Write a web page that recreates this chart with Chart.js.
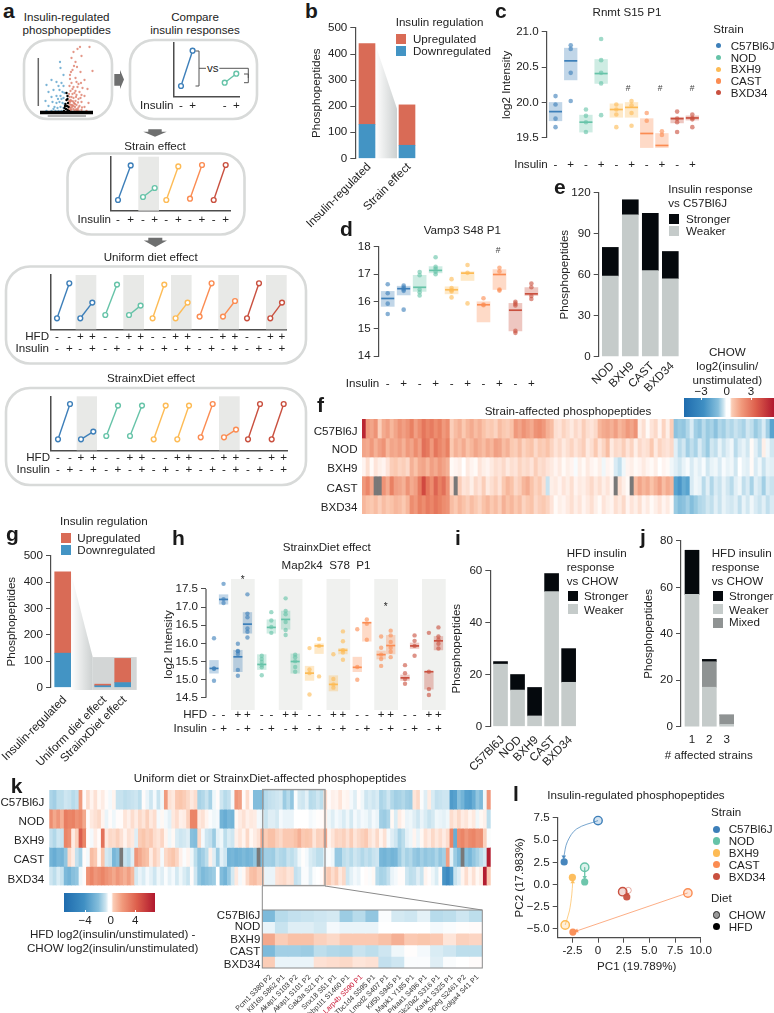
<!DOCTYPE html>
<html><head><meta charset="utf-8">
<script src="https://cdn.jsdelivr.net/npm/chart.js@4"></script>
<style>
html,body{margin:0;padding:0;background:#fff}
#page{position:relative;width:774px;height:1013px;overflow:hidden;background:#fff}
#page canvas{position:absolute}
.t{position:absolute;white-space:pre;color:#222;line-height:1;font-family:"Liberation Sans",Arial,sans-serif}
</style></head><body><div id="page"></div>
<script>
/* ---------- shared labels ---------- */
const strains=['C57Bl6J','NOD','BXH9','CAST','BXD34'];
const STRAIN=['#3d7fb9','#66c3a8','#fdbb55','#fb8c52','#c9503f'];
const insulinLabels=['-','+','-','+','-','+','-','+','-','+'];
const dietInsulinLabels=[['-','-'],['-','+'],['+','-'],['+','+'],['-','-'],['-','+'],['+','-'],['+','+'],['-','-'],['-','+'],['+','-'],['+','+'],['-','-'],['-','+'],['+','-'],['+','+'],['-','-'],['-','+'],['+','-'],['+','+']];

/* ---------- b, e, g, i, j stacked bars ---------- */
const bLabels=['Insulin-regulated','Strain effect'];
const bDown=[130,50];
const bUp=[310,155];
const eLabels=['NOD','BXH9','CAST','BXD34'];
const eWeaker=[59,104,63,57];
const eStronger=[21,11,42,20];
const gLabels=['Insulin-regulated','Uniform diet effect','StrainxDiet effect'];
const gDown=[130,6,18];
const gUp=[310,6,92];
const iLabels=strains;
const iWeaker=[24,14,4,52,17];
const iStronger=[1,6,11,7,13];
const jLabels=['1','2','3'];
const jWeaker=[57,17,1];
const jMixed=[0,11,4];
const jStronger=[19,1,0];

/* ---------- c Rnmt S15 P1 ---------- */
const cX=[1,2,3,4,5,6,7,8,9,10];
const cPts=[[20.09,19.97,19.77,19.65],[20.81,20.76,20.42,20.02],[19.9,19.81,19.72,19.58],[20.9,20.6,20.42,20.27,19.82],[19.97,19.9,19.83,19.65],[20.02,19.96,19.85,19.67],[19.85,19.74,19.39,19.3],[19.59,19.54,19.39,19.26],[19.87,19.77,19.72,19.58],[19.83,19.78,19.76,19.65]];
const cMed=[19.87,20.59,19.72,20.41,19.9,19.93,19.56,19.39,19.77,19.78];
const cLo=[19.74,20.32,19.58,20.27,19.79,19.79,19.36,19.36,19.71,19.75];
const cHi=[20,20.77,19.82,20.61,19.98,20,19.77,19.56,19.79,19.81];

/* ---------- d Vamp3 S48 P1 ---------- */
const dX=[1,2,3,4,5,6,7,8,9,10];
const dPts=[[16.63,16.3,15.92,15.54],[16.58,16.51,16.44,16.39,15.7],[17.08,16.96,16.44,16.34,16.22],[17.62,17.27,17.2,17.09,17],[16.82,16.49,16.41,16.37,16.15],[17.34,17.05,15.93],[16.12,15.89,15.86,13.38],[17.24,17.1,16.44,16.4],[15.99,15.92,15.85,14.92,14.85],[16.66,16.52,16.2,16.09]];
const dMed=[16.11,16.47,16.52,17.14,16.43,17.04,15.88,16.99,15.68,16.28];
const dLo=[15.82,16.24,16.37,17.05,16.28,16.77,15.25,16.44,14.92,16.22];
const dHi=[16.37,16.56,16.96,17.28,16.54,17.09,15.99,17.17,15.93,16.51];

/* ---------- h Map2k4 S78 P1 ---------- */
const hX=[0,1,2.5,3.5,5,6,7.5,8.5,10,11,12.5,13.5,15,16,17.5,18.5,20,21,22.5,23.5];
const hPts=[[16.14,15.31,15.3,14.97],[17.64,17.22,17.11],[15.99,15.79,15.78,15.71,15.27,15.11],[17.35,16.82,16.72,16.41,16.32,16.16],[15.66,15.57,15.49,15.4,15.34,15.12],[16.86,16.63,16.45,16.29],[17.24,16.89,16.8,16.59,16.37,16.23],[15.69,15.62,15.51,15.35,15.22],[15.87,15.28,15.18,14.59],[16.12,15.93,15.09],[15.7,15.02,14.87,14.78],[16.33,16.06,15.81,15.75,15.55],[16.39,15.35,15],[16.66,16.54,16.1],[16.19,15.88,15.69,15.57,15.38],[16.35,16.22,16.04,15.88,15.77,15.62],[15.4,15.18,15.02,14.89],[16.22,16.07,15.93,15.66],[16.29,15.22,14.74,14.58],[16.44,16.19,16.1,15.99,15.86]];
const hMed=[15.31,17.21,15.63,16.53,15.42,16.44,16.66,15.5,15.18,15.93,14.87,15.81,15.34,16.57,15.69,15.94,15.05,15.93,15.22,16.07];
const hLo=[15.18,17.08,15.22,16.28,15.28,16.28,16.39,15.18,14.98,15.72,14.69,15.71,15.22,16.06,15.57,15.71,14.98,15.86,14.74,15.82];
const hHi=[15.53,17.34,15.81,16.85,15.69,16.65,16.89,15.71,15.37,15.99,15.11,15.86,15.62,16.58,15.79,16.22,15.13,16.01,15.22,16.19];
const hShade=[[1.78,4.26],[6.78,9.26],[11.78,14.26],[16.78,19.26],[21.78,24.26]];

/* ---------- f heatmap ---------- */
const fC57=[4,1.8,1.6,1.9,.9,1.5,1.7,1.3,1.6,1.9,
1.7,1.9,2.2,1.7,2,2.4,2.1,2.3,2,2.2,
1.8,2,.9,1.2,1.4,1,1.3,1.5,1.2,1.4,
1.1,.9,1,.8,1.2,1,.9,1.1,1.8,1.6,
1.9,1.7,1.5,1.9,2,1.8,1.4,1.2,.6,.5,
.8,.6,.4,.7,.5,.9,.6,.5,.7,1.3,
1.5,1.6,1.4,1.7,1.3,1.5,1.8,1.6,1.9,.3,
.6,.1,.5,.7,.2,.8,.3,.9,-1.5,-1.3,
-1.4,-1,-.5,-1.2,-1.4,-.9,-1.3,-1.1,-1.5,-1,
-1.2,-.8,-1,-.7,-.9,-1.1,-.6,-.8,-1.3,-1,
-.5,-1.2,-2.2];
const fNOD=[1.6,1.5,1.8,1.4,1.7,1.9,1.3,1.6,1.5,1.7,
1.4,1.8,1.6,2,1.7,2.5,2.3,1.8,2.4,2.1,
1.9,2.2,1,1.4,1.2,1.5,1.1,1.3,1.6,1.4,
1.2,1.5,1.3,1.7,1.6,1.2,1.4,1,.9,1.2,
.8,1,1.1,.7,1,.9,1.1,.8,.5,.7,
.4,.6,.8,.5,.7,.9,.4,.6,1,.5,
.8,1.2,.4,.7,.6,.9,.5,.8,.3,.7,
.5,.6,1,.4,.8,.6,.5,.7,-.4,-.9,
-.6,-1.2,-.8,-1.1,-.5,-.9,-1.3,-.6,-.8,-.3,
-.7,-.4,-.2,-.9,-.5,-.3,-.6,.1,-.4,-.8,
.3,-.2,-.6];
const fBXH9=[.2,.6,.1,.5,.3,.2,.5,.9,1,.8,
.9,.7,1.4,1.1,1.5,1.6,1.3,1.7,1.5,1.8,
1.6,1.4,.1,.2,.3,0,.4,.2,.1,.5,
.3,.2,.4,.6,.5,.7,.4,.6,.5,.8,
.6,.7,.5,.9,.6,.7,.5,.4,.2,.4,
.1,.3,.2,-.1,.3,.1,.4,.2,.1,.3,
-.2,.2,.1,-.5,-.8,-.2,.2,.3,.1,.2,
.4,.2,.1,.3,0,.2,.1,-.2,-.4,-.6,
-.3,-.1,-.5,-.2,-.4,-.1,-.6,-.3,-.2,-.5,
-.1,-.3,-.2,-.6,0,-.3,-.4,.1,-.5,-.2,
-.7,-.3,-.4];
const fCAST=[1.8,2.1,1.6,null,null,1.9,1.5,2.2,1.7,1.6,
1.4,1.9,1.5,1.7,2.3,3.2,2.4,2,2.7,2.2,
2.5,1.9,.7,null,.9,.5,.6,.3,.7,.5,
.9,.4,.6,.8,.5,1,1.3,1.1,.7,.9,
1.3,1.5,1.1,.8,1,.6,-.7,.3,.4,.2,
.5,.3,.6,.2,.4,.3,.5,.7,.4,.6,
.3,.5,.2,null,.6,.3,.1,null,1.2,1.6,
1.3,1.5,1.1,1.4,1.7,1.2,1.5,1.3,-2.2,-2.5,
-2,-2.2,-.5,-.2,-.3,-.9,-.4,-1,-.5,-.7,
-.3,-.6,-.9,-.4,-.2,-.8,-.5,-1.1,-.4,-.6,
-1.2,-.5,-.7];
const fBXD=[1.3,1.1,1,1.2,.9,1.2,1,1.1,1.3,1.2,
1,1.3,2,1.8,2.2,2,2.3,2.1,2.4,2.2,
2,1.9,1.2,1,1.3,1.1,.9,1.2,1,.8,
1.1,1.3,1,1.2,.9,1.4,1.1,1.3,1,1.2,
.8,1,1.1,.7,.9,1,.8,.5,.1,.3,
.2,.4,.6,.3,.5,.2,.4,.6,.3,.1,
.5,.3,.2,.6,.4,.7,.2,.5,.3,.6,
.2,.4,.1,.3,.5,.2,.4,.1,-1.3,-1.6,
-1.5,-1.2,-1.6,-1.3,-1,-.9,-.6,-.8,-.4,-.7,
-.3,-.5,-.6,-.4,-.8,-.3,-.6,-.2,-.5,-.7,
-.4,-.8,-.5];

/* ---------- k heatmap (inset = columns 57..73) ---------- */
const kC57=[-1.5,-1.7,-1.2,-1.2,-.9,-1,-1.3,-1.1,2.5,.1,.9,.3,.8,.2,.5,.1,-.2,.3,-1,-1,-1.2,-1.1,-1,-.9,-1.2,.1,-.4,-.9,-.2,-1,-.3,2.5,.8,.6,1.4,1.5,1.3,1,.6,.9,-1.6,-1.4,-1,-1.6,-.3,.1,-.9,-1.3,-1.1,-.2,2.6,2.4,.1,.9,.1,-2.3,-2.3,
-2.4,-1.3,-1.1,-1,-.9,-.8,-1.8,-1.3,-2,-.1,-.8,-.9,-.5,-1.3,-1.2,-.9,-1.2,
.9,.1,.4,.3,.7,.2,.3,-.2,-.6,.1,-.3,-.9,-.7,-.9,-.7,-1.5,-1.3,-.9,-1.4,-1.7,-1.6,-1.4,-1.7,-1.8,.7,1,-.1,-.6,.5,-.7,-1.1,-1,-.9,-.9,-3.4,-3.2,-2.2,-2.6,-3.2,-3.3,-2.8,-2,-2.4,-.3,2.6];
const kNOD=[2.8,2.2,2.6,2,3.2,3,3.1,2.7,2.9,2.2,.1,.6,.8,1,.3,-.4,.1,-.3,.1,.1,.7,.4,.9,.5,1,.7,1.2,.6,.9,-.2,.2,-.2,-.5,.6,.9,.4,.5,1.2,3,3,.6,.8,.3,-.1,-.3,-.2,-2.6,-2.8,-2.5,-2.6,.2,.5,.8,.4,.6,.5,-.2,
-.4,-1,-.6,-.6,-.8,-.2,-.4,-.4,-.4,0,0,0,0,-.2,-.1,.05,.1,
.5,-.3,-.6,-.2,-.4,-.7,-.3,-.8,-.2,-.5,-.2,-.3,-.6,-.2,-.4,-1.7,-1.8,-1.5,.2,-.7,.5,.2,-.4,-.3,-.6,-.9,-.4,-.7,-1,-.8,-.3,-.4,-.5,-.3,.9,.6,1,.5,.7,.3,.6,-.3,.2,.4,-1.2];
const kBXH9=[-1.1,-1.4,-.9,-1,3,2.8,.5,1.2,4,3,.1,-.2,.5,.1,3.5,.6,1,.9,1.2,.8,.3,.8,.6,-.6,1.3,1.5,1.2,1.4,.9,.7,1.1,.3,-.3,.2,-.7,-.9,-.8,-.6,-2.2,-2.3,1,-.2,-.9,-1.1,-1.8,-.5,-.3,-1.2,-.7,-.9,.4,.7,.3,1,.2,.5,.8,
2.2,1.3,1.6,1.6,1.2,1,1.4,1.4,1.4,1.6,2,1.4,1.5,1.4,.7,1.2,1.1,
2.2,.3,.7,1.1,1,1.2,.8,1.3,.7,1,1.2,1.4,.8,.5,1,.3,.8,-.2,-.6,-.9,-1.6,-1.2,-.5,-.3,.3,-.4,.2,.8,.5,1,.6,.9,.5,.9,3,-2.8,2.8,3,2.6,2.9,3,2.7,2.8,1.2,-.1];
const kCAST=[-2.6,-2.8,-2.5,-2.6,-2,1,.5,-1.1,-1.6,.1,-.2,1.7,1.4,.2,1.5,-.8,-1,-2.5,-2.2,null,-1,-1.3,-.6,2.6,2.2,1.8,1.6,.5,1.2,.8,-.2,1,1.3,1.5,1.1,.4,-.1,.3,-.3,-1.2,-2,-1.7,-1.2,.4,-.6,-1.8,-.5,-.9,-2.6,-2.5,-2.7,-2.6,-2.4,-2.6,-2.5,-2,null,
-2.4,-1.7,-1.7,-1.8,-1.2,-1.4,-1.5,-1,-1.2,-.9,-.3,.05,-.2,-.7,-.9,-1.2,-1.2,
-.2,-.1,-.3,-1.9,-1.9,-1.2,-1,-1.3,-.9,-1.1,-1.4,-1.1,-1.3,-1,-.9,-2.5,-2.6,-2.4,-2.6,-2.5,-1.8,-1.2,-1.6,-1.4,-1.9,-2.1,-1.7,-2,-1.8,-1.9,-1.5,-2,-1.7,2.4,-.5,-1.8,-2.4,null,-2.2,-2.5,-2,-1.6,-1.2,-.8,6];
const kBXD=[-.9,-1.2,-.7,-1,-2.4,-2.6,-2.2,-2,-.3,.1,2.7,3,2.6,2.8,3,2.7,2.5,2.2,2.6,2.3,2,2.4,1.8,-.8,-.4,-.7,-.2,-.5,-.9,-.3,-.6,-.1,-.5,-.2,-.8,-.3,-.7,-1,.1,-.9,-2,-2.4,-2.2,-2,-1.8,0,-2.3,-2.6,-1.9,-.8,.6,-.2,.2,1,1.6,1.7,1.3,
1.3,-.4,-.4,-.4,.8,.9,1,.7,.8,-1.1,-.9,-.1,-.1,-.6,-.1,0,.1,
1.2,1.4,.9,1.3,.6,1,-.9,-.5,-.2,-.4,0,.1,-.1,.2,-1.3,-1.6,-1.5,-1.1,-.4,-.2,.1,.1,-.9,-1.2,-1.1,-.6,-1,.3,.1,-.3,-.7,.1,-3.6,-3.9,-3.4,-1,-.6,.3,.9,.3,.8,.2,.5,6,1.4];
const insetLabels=['Pcm1 S380 P2','Kif16b S862 P1','Akap1 S103 P2','Akap1 S101 P2','Gak3a S21 P1','Snx18 S51 P1','Ehbp1l1 S1460 P1','Larp4b S590 P1','Tbc1d4 S595 P1','Lmod2 S407 P1','Kif5b S945 P1','Mapk1 Y185 P1','Prkaa1 S496 P1','Slc20a2 S316 P1','Kank1 S325 P1','Speg S2461 P2','Golga4 S41 P1'];

/* ---------- l PCA ---------- */
const lChow=[[0,7.2],[-1.3,1.95],[-3.2,-4.55],[8.75,-.95],[2.4,-.8]];
const lHfd=[[-3.3,2.55],[-1.3,.3],[-2.5,.8],[-2.45,-5.35],[2.8,-1.4]];
const lBxdRing=[[2.95,-.65]];
const lPathC57=[[0,7.2],[-2.08,6.27],[-2.99,4.82],[-3.34,3.12]];
const lPathNOD=[[-1.3,1.95],[-1.3,.83]];
const lPathBXH9=[[-3.2,-4.55],[-2.79,-2.97],[-2.56,-1.16],[-2.47,.29]];
const lPathCAST=[[8.73,-.94],[-2.08,-5.22]];
const lPathBXD=[[2.95,-.65],[2.85,-1.05]];

/* ---------- a schematics ---------- */
const volRed=[[1.35,6.9],[2.3,6.9],[.7,6.4],[1.1,6.7],[.5,5.8],[1.5,6],[.9,5.4],[2.6,4.5],[1.4,4.4],[.35,4.1],[.9,3.8],[1.8,3.6],[.5,3.3],[1.2,3.2],[.3,3],[.7,2.9],[1.6,2.8],[2.1,2.7],[.4,2.5],[.9,2.5],[1.3,2.4],[.6,2.2],[1,2.1],[1.8,2],[.3,1.9],[.7,1.8],[1.2,1.7],[.5,1.5],[.9,1.5],[1.5,1.4],[2.2,1.3],[.3,1.2],[.6,1.1],[1,1.1],[1.3,1],[1.8,.9],[.4,.8],[.7,.7],[1.1,.7],[1.5,.6],[2,.5],[.3,.5],[.6,.4],[.9,.4],[1.3,.4],[1.7,.35],[.35,3.7],[.6,4.6],[1.05,4.9],[.75,5],[.45,4.4],[1,3.4],[1.45,3.3],[.6,2.7],[1.1,2.9],[.8,2.3],[1.5,2.1],[.5,1.9],[.95,1.9],[1.4,1.8],[.4,1.6],[.75,1.3],[1.15,1.35],[.55,.9],[.85,.9],[1.2,.85],[.4,.6],[.8,.55],[1.05,.5],[1.55,.85],[.25,2.2],[.25,1.5],[.2,1],[.2,.7],[.45,1.1],[.65,1.45],[.35,1.4],[.85,1.2],[.5,.65],[.95,.65],[1.2,.55],[.7,1],[.3,.9]];
const volBlue=[[-.65,5.4],[-.6,4.8],[-.3,4.1],[-1.5,3.6],[-2,3.1],[-1,3.4],[-.8,3],[-.5,3.3],[-.3,3],[-1.8,2.4],[-1.3,2.6],[-.7,2.6],[-.4,2.4],[-.2,2.3],[-1.5,1.9],[-1,2],[-.6,2],[-.3,1.8],[-2.1,1.5],[-1.4,1.4],[-1,1.3],[-.7,1.4],[-.4,1.3],[-.2,1.2],[-1.8,1],[-1.2,.9],[-.9,.8],[-.6,.9],[-.3,.8],[-1.5,.5],[-1.1,.5],[-.8,.5],[-.5,.5],[-.25,.5],[-2,.5],[-1.3,.7],[-.5,1.7],[-.85,1.7]];
const volBlack=[[-.2,.8],[-.1,1.2],[0,1.6],[.1,2],[.05,1],[.15,1.3],[-.05,.7],[.2,.9],[.1,.6],[-.25,.5],[.25,.5],[0,2.3],[.1,1.7],[-.15,1]];
const volBand=[[-2.65,.35],[2.65,.35]];

const compareX=[[7.7,19.3],[51.4,63]];
const compareLow=[10.7,14];
const compareHigh=[46,23];
const compareLabels=['-','+','-','+'];

const strainX=[[7,19.7],[32,43.7],[55.3,67.3],[79,91],[102.7,114.7]];
const strainLow=[10.7,13.7,10.7,12,10.7];
const strainHigh=[45.3,22.7,44.3,45.7,45.7];
const strainShade=[[27.3,48]];

const uniformX=[[6.7,19],[30,42],[55,66.7],[78.7,90.3],[102.3,114],[125.3,137.3],[149.3,161.3],[172.7,184.7],[196.7,208.7],[220,231.7]];
const uniformLow=[11,11,14.3,14.3,11,11,12.7,12.7,11,11];
const uniformHigh=[46,26.7,44.7,23.7,44.7,26.7,46,28.3,46,26.7];
const uniformShade=[[25.3,46],[73,93.7],[120.7,141.3],[168,188.7],[215.7,236.4]];

const sxdX=[[7,19],[30,42.3],[55.3,67],[79,91],[102.7,114.7],[126.3,138],[149.7,161.7],[173,185],[197,209],[220.7,232.7]];
const sxdLow=[11,11,14.3,14.3,11,11,13,13,11,11];
const sxdHigh=[46.3,18.7,44.7,44.7,44.7,44.7,46.3,20.7,46.3,46.3];
const sxdShade=[[25.7,46],[168,188.7]];

/* ========== drawing ========== */
const FONT='"Liberation Sans",Arial,sans-serif', INK='#222', AX='#4d4d4d', FS=11.6;
const RED='#d96b56', BLUE='#4394c4', BLACK='#05090d', WEAK='#c5cbca', MIXED='#8f9393', GRAYCELL='#787878';
Chart.defaults.font.family=FONT; Chart.defaults.font.size=FS; Chart.defaults.color=INK;
Chart.defaults.animation=false; Chart.defaults.responsive=false; Chart.defaults.events=[];
Chart.defaults.plugins.legend.display=false; Chart.defaults.plugins.tooltip.enabled=false;
const page=document.getElementById('page');

Chart.register({id:'shade',beforeDatasetsDraw(ch,a,o){
  if(!o.ranges)return;const c=ch.ctx,x=ch.scales.x,A=ch.chartArea;c.save();c.fillStyle=o.color||'#e8e9e7';
  o.ranges.forEach(r=>{const p=x.getPixelForValue(r[0]),q=x.getPixelForValue(r[1]);c.fillRect(p,A.top,q-p,A.bottom-A.top)});c.restore();}});
Chart.register({id:'funnel',beforeDatasetsDraw(ch,a,o){
  if(o.x1===undefined)return;const c=ch.ctx,X=ch.scales.x,Y=ch.scales.y;
  const x1=X.getPixelForValue(o.x1),x2=X.getPixelForValue(o.x2),yt1=Y.getPixelForValue(o.y1),yt2=Y.getPixelForValue(o.y2),yb=Y.getPixelForValue(o.yb);
  const g=c.createLinearGradient(x1,0,x2,0);g.addColorStop(0,'#ffffff');g.addColorStop(1,'#ccd0d0');
  c.save();c.fillStyle=g;c.beginPath();c.moveTo(x1,yt1);c.lineTo(x2,yt2);c.lineTo(x2,yb);c.lineTo(x1,yb);c.closePath();c.fill();
  if(o.x3!==undefined){c.fillStyle='#d3d6d6';const x3=X.getPixelForValue(o.x3);c.fillRect(x2,yt2,x3-x2,yb-yt2);}
  c.restore();}});
Chart.register({id:'axisSpan',afterDatasetsDraw(ch,a,o){
  if(o.from===undefined)return;const c=ch.ctx,Y=ch.scales.y,x=ch.chartArea.left;
  c.save();c.strokeStyle=AX;c.lineWidth=1.2;c.beginPath();c.moveTo(x,Y.getPixelForValue(o.from));c.lineTo(x,Y.getPixelForValue(o.to));c.stroke();c.restore();}});

function rgba(h,a){const n=parseInt(h.slice(1),16);return `rgba(${n>>16},${(n>>8)&255},${n&255},${a})`;}
function T(s,x,y,o={}){const d=document.createElement('div');d.className='t';d.textContent=s;
  d.style.fontSize=(o.size||FS)+'px';
  if(o.bold)d.style.fontWeight='700';if(o.color)d.style.color=o.color;
  d.style.left=x+'px';d.style.top=y+'px';
  const ax=o.a==='c'?'-50%':o.a==='r'?'-100%':'0';
  d.style.transform=`translate(${ax},-50%)`;page.appendChild(d);}
function BOX(x0,y0,x1,y1,bg){const d=document.createElement('div');d.style.cssText=`position:absolute;left:${x0}px;top:${y0}px;width:${x1-x0}px;height:${y1-y0}px;background:${bg}`;page.appendChild(d);return d;}
function DOT(x,y,r,fill,stroke){const d=BOX(x-r,y-r,x+r,y+r,fill);d.style.borderRadius='50%';d.style.boxSizing='border-box';if(stroke)d.style.border=`1.4px solid ${stroke}`;}
function mount(r,m,cfg){const [x0,y0,x1,y1]=r;const c=document.createElement('canvas');
  const L=Math.floor(x0-m.l),Tp=Math.floor(y0-m.t),W=Math.ceil(x1+m.r)-L,H=Math.ceil(y1+m.b)-Tp;
  const ml=x0-L,mt=y0-Tp,mr=W-(x1-L),mb=H-(y1-Tp);
  c.width=W;c.height=H;c.style.left=L+'px';c.style.top=Tp+'px';page.appendChild(c);
  const o=cfg.options=cfg.options||{};o.responsive=false;o.maintainAspectRatio=false;
  const xs=o.scales.x,ys=o.scales.y,xd=xs.display!==false,yd=ys.display!==false;
  if(xd)xs.afterFit=s=>{s.height=mb};if(yd)ys.afterFit=s=>{s.width=ml};
  if(m.title)ys.title={display:true,text:m.title,color:INK,font:{size:FS,lineHeight:1.2},padding:{top:Math.max(0,m.tx-L-FS*.6),bottom:0}};
  o.layout={autoPadding:false,padding:{left:yd?0:ml,top:mt,right:mr,bottom:xd?0:mb}};
  return new Chart(c,cfg);}
function yAxis(min,max,ticks,fmt,extra={}){return Object.assign({type:'linear',min,max,
  afterBuildTicks:s=>{s.ticks=ticks.map(value=>({value}))},
  ticks:{callback:v=>fmt?fmt(v):v,padding:3,autoSkip:false,color:INK,font:{size:FS}},
  grid:{drawOnChartArea:false,tickLength:5,tickColor:AX,color:AX,lineWidth:1},
  border:{color:AX,width:1.2}},extra);}
function xLabels(min,max,xs,labels,opt={}){return {type:'linear',min,max,offset:false,
  afterBuildTicks:s=>{s.ticks=xs.map(value=>({value}))},
  ticks:{callback:(v,i)=>labels[i],autoSkip:false,padding:opt.padding===undefined?2:opt.padding,color:INK,labelOffset:opt.rot?2:0,
    font:{size:opt.size||FS,lineHeight:opt.lineHeight||1.2},minRotation:opt.rot||0,maxRotation:opt.rot||0},
  grid:{display:false,drawTicks:false,offset:false},border:{display:!!opt.border,color:AX,width:1.5}};}
const f1=v=>v.toFixed(1);

/* stacked bars */
function bars(r,m,o){const ds=o.stacks.map(s=>({data:o.xs.map((x,i)=>({x,y:s.vals[i]})),backgroundColor:s.color,barThickness:o.thick,borderWidth:0,clip:false}));
  return mount(r,m,{type:'bar',data:{datasets:ds},options:{plugins:o.plugins||{},
    scales:{x:Object.assign(xLabels(o.xmin,o.xmax,o.xs,o.labels,{rot:o.rot,padding:o.padding}),{stacked:true}),y:yAxis(0,o.ymax,o.yticks,null,{stacked:true})}}});}
/* median + range + dots */
function crossbar(r,m,o){const cols=o.xs.map((x,i)=>STRAIN[Math.floor(i/o.per)]);
  const flat=[],fc=[];o.pts.forEach((p,i)=>p.forEach(y=>{flat.push({x:o.xs[i],y});fc.push(rgba(cols[i],.62));}));
  return mount(r,m,{type:'bar',data:{datasets:[
    {type:'bar',data:o.xs.map((x,i)=>({x,y:[o.lo[i],o.hi[i]]})),backgroundColor:cols.map(c=>rgba(c,.32)),barThickness:o.boxW,borderWidth:0,order:3,clip:false},
    {type:'scatter',data:flat,pointRadius:o.ptR,pointBackgroundColor:fc,pointBorderWidth:0,order:2,clip:false},
    {type:'scatter',data:o.xs.map((x,i)=>({x,y:o.med[i]})),pointStyle:'line',pointRadius:o.medR,pointBorderColor:cols,pointBorderWidth:1.7,order:1,clip:false}
  ]},options:{plugins:o.plugins||{},scales:{x:xLabels(o.xmin,o.xmax,o.xs,o.labels,{padding:o.padding,lineHeight:o.lineHeight}),y:o.y}}});}
/* heat */
const STOPS=[[-4,[24,92,160]],[-3,[38,115,180]],[-2,[90,165,208]],[-1,[170,212,231]],[-.4,[222,238,245]],[0,[255,255,255]],[.4,[254,232,222]],[1,[250,196,170]],[2,[234,130,100]],[3,[208,70,62]],[4,[176,24,46]]];
function heatColor(v){if(v===null)return GRAYCELL;v=Math.max(-4,Math.min(4,v));
  for(let i=1;i<STOPS.length;i++){if(v<=STOPS[i][0]){const a=STOPS[i-1],b=STOPS[i],t=(v-a[0])/(b[0]-a[0]);
    return `rgb(${a[1].map((c,k)=>Math.round(c+(b[1][k]-c)*t)).join(',')})`;}}return 'rgb(176,24,46)';}
function heat(r,m,rows,scale,lab){
  return mount(r,m,{type:'bar',data:{labels:lab||rows[0].map((_,i)=>''+i),datasets:rows.map((vals,i)=>({
      data:vals.map(()=>[i,i+1]),backgroundColor:vals.map(v=>heatColor(v===null?null:v*scale)),barPercentage:1,categoryPercentage:1,grouped:false,borderWidth:0}))},
    options:{scales:{y:{type:'linear',min:0,max:5,reverse:true,display:false},
      x:lab?{type:'category',offset:true,grid:{display:false,drawTicks:false},border:{display:false},
        ticks:{autoSkip:false,minRotation:45,maxRotation:45,padding:5,labelOffset:2,font:{size:7.2},
          color:c=>insetLabels[c.index]==='Larp4b S590 P1'?'#c8102e':'#333'}}:{type:'category',display:false}}}});}
/* schematic insulin lines */
function schem(r,m,o){const ds=[];const sc=o.colorOf;
  o.x.forEach((p,i)=>{const c=sc(i);ds.push({type:'line',data:[{x:p[0],y:o.low[i]},{x:p[1],y:o.high[i]}],borderColor:c,borderWidth:1.4,pointRadius:2.4,pointBackgroundColor:'#fff',pointBorderColor:c,pointBorderWidth:1.4,clip:false})});
  const xs=o.x.flat();
  return mount(r,m,{type:'line',data:{datasets:ds},options:{plugins:{shade:{ranges:o.shade}},
    scales:{x:xLabels(0,o.xmax,xs,o.labels,{padding:o.padding,border:true,lineHeight:o.lineHeight}),
      y:{type:'linear',min:0,max:o.ymax,ticks:{display:false},grid:{display:false,drawTicks:false},border:{color:AX,width:1.5}}}}});}

/* ---- panel a ---- */
const NS='http://www.w3.org/2000/svg';
const svg=document.createElementNS(NS,'svg');svg.setAttribute('width',774);svg.setAttribute('height',1013);svg.style.cssText='position:absolute;left:0;top:0;z-index:2;pointer-events:none';page.appendChild(svg);
function P(tag,attrs){const e=document.createElementNS(NS,tag);for(const k in attrs)e.setAttribute(k,attrs[k]);svg.appendChild(e);}
const FR={fill:'none',stroke:'#d8dad9','stroke-width':2.6};
P('rect',{x:24,y:40,width:88,height:79,rx:24,...FR});
P('rect',{x:130,y:40,width:127,height:79,rx:24,...FR});
P('rect',{x:67.5,y:153.5,width:177,height:81,rx:24,...FR});
P('rect',{x:6,y:266.5,width:300,height:97,rx:24,...FR});
P('rect',{x:6,y:388,width:300,height:97,rx:24,...FR});
P('polygon',{points:'114.3,74 120,74 120,70 124,79.5 120,89 120,85.7 114.3,85.7',fill:'#6e6f6f'});
P('polygon',{points:'148.3,129.3 161.7,129.3 161.7,131.7 166.7,131.7 155,136.7 143.3,131.7 148.3,131.7',fill:'#6e6f6f'});
P('polygon',{points:'148.3,237.7 162.3,237.7 162.3,240.5 167,240.5 155.3,247 143.8,240.5 148.3,240.5',fill:'#6e6f6f'});
const LN={fill:'none',stroke:'#555','stroke-width':1};
P('path',{d:'M195.5,51H199V86H195.5',...LN});P('path',{d:'M199,68.3H206',...LN});
P('path',{d:'M219.3,68.3H248.3V78',...LN});P('path',{d:'M244,74H248.3V82.7H244',...LN});
P('line',{x1:38.3,y1:58,x2:38.3,y2:106,stroke:'#666','stroke-width':1.5});
P('line',{x1:47.7,y1:116,x2:86,y2:116,stroke:'#666','stroke-width':1.2});
/* k zoom guide */
const GL={fill:'none',stroke:'#9a9a9a','stroke-width':1.4};
P('rect',{x:262.7,y:789.6,width:62.3,height:96,...GL});
const GL2={fill:'none',stroke:'#8a8a8a','stroke-width':1};
P('line',{x1:262.3,y1:886,x2:262.3,y2:910,...GL2});P('line',{x1:325,y1:886,x2:482,y2:910,...GL2});
P('rect',{x:262.3,y:910,width:220,height:58,...GL2});

T('a',3,9.5,{size:21,bold:true,color:'#1a1a1a'});
T('Insulin-regulated',66.7,16.7,{a:'c'});T('phosphopeptides',66.7,30,{a:'c'});
T('Compare',195,16.7,{a:'c'});T('insulin responses',195,30,{a:'c'});
T('vs',212.7,68,{a:'c'});
mount([33,40,100,116],{l:0,t:0,r:0,b:0},{type:'scatter',data:{datasets:[
  {type:'line',data:volBand.map(p=>({x:p[0],y:p[1]})),borderColor:'#000',borderWidth:3.4,pointRadius:0,clip:false},
  {data:volBlack.map(p=>({x:p[0],y:p[1]})),pointRadius:1.2,pointBackgroundColor:'#000',pointBorderWidth:0,clip:false},
  {data:volRed.map(p=>({x:p[0],y:p[1]})),pointRadius:1.15,pointBackgroundColor:'rgba(217,107,86,.7)',pointBorderWidth:0,clip:false},
  {data:volBlue.map(p=>({x:p[0],y:p[1]})),pointRadius:1.15,pointBackgroundColor:'rgba(67,148,196,.7)',pointBorderWidth:0,clip:false}
]},options:{scales:{x:{type:'linear',min:-3.35,max:3.35,display:false},y:{type:'linear',min:0,max:7.6,display:false}}}});

schem([173.3,43,239,96.7],{l:3,t:6,r:3,b:16},{x:compareX,low:compareLow,high:compareHigh,xmax:65.7,ymax:53.7,labels:compareLabels,padding:2,colorOf:i=>STRAIN[i]});
T('Insulin',173.5,105,{a:'r'});

T('Strain effect',155,146,{a:'c'});
schem([111,156.7,230,210.7],{l:3,t:6,r:3,b:16},{x:strainX,low:strainLow,high:strainHigh,xmax:119,ymax:54,shade:strainShade,labels:['-','+','-','+','-','+','-','+','-','+'],padding:2,colorOf:i=>STRAIN[i]});
T('Insulin',111,218.7,{a:'r'});

T('Uniform diet effect',150.7,257,{a:'c'});
schem([50.3,275,286.7,329.3],{l:3,t:6,r:3,b:30},{x:uniformX,low:uniformLow,high:uniformHigh,xmax:236.4,ymax:54.3,shade:uniformShade,labels:dietInsulinLabels,padding:1,lineHeight:1.04,colorOf:i=>STRAIN[Math.floor(i/2)]});
T('HFD',49,336.3,{a:'r'});T('Insulin',49,348.3,{a:'r'});

T('StrainxDiet effect',151,378.3,{a:'c'});
schem([51,396.3,287.3,450.3],{l:3,t:6,r:3,b:30},{x:sxdX,low:sxdLow,high:sxdHigh,xmax:236.3,ymax:54,shade:sxdShade,labels:dietInsulinLabels,padding:1,lineHeight:1.04,colorOf:i=>STRAIN[Math.floor(i/2)]});
T('HFD',50,457.3,{a:'r'});T('Insulin',50,469.3,{a:'r'});

/* ---- panel b ---- */
T('b',305,9.5,{size:21,bold:true,color:'#1a1a1a'});
bars([355.3,22.3,420,158.3],{l:80,t:4,r:4,b:90,title:'Phosphopeptides',tx:316.7},{xs:[1,2],labels:bLabels,xmin:.7075,xmax:2.325,thick:16,rot:45,padding:2,ymax:500,yticks:[0,100,200,300,400,500],
  stacks:[{vals:bDown,color:BLUE},{vals:bUp,color:RED}],plugins:{funnel:{x1:1.2,y1:440,x2:1.75,y2:190,yb:0}}});
T('Insulin regulation',395.7,22);BOX(396.3,34.3,406.3,44.3,RED);BOX(396.3,46,406.3,56,BLUE);T('Upregulated',413,39);T('Downregulated',413,51);

/* ---- panel c ---- */
T('c',495,9.5,{size:21,bold:true,color:'#1a1a1a'});
crossbar([546.7,28.3,712,137.7],{l:50,t:6,r:4,b:36,title:'log2 Intensity',tx:507},{xs:cX,per:2,pts:cPts,med:cMed,lo:cLo,hi:cHi,labels:insulinLabels,xmin:.419,xmax:10.75,boxW:12.7,medR:6.5,ptR:2.3,padding:20,
  y:yAxis(19.5,21,[19.5,20,20.5,21],f1)});
T('Rnmt S15 P1',627,12.3,{a:'c'});T('Insulin',547.7,164.3,{a:'r'});
[628,660,692].forEach(x=>T('#',x,88,{a:'c',size:8.5,color:'#444'}));
T('Strain',713.3,29);
strains.forEach((s,i)=>{const y=[45.7,57.7,69.3,81,92.7][i];DOT(718.7,y,2.6,STRAIN[i]);T(s,730.7,y);});

/* ---- panel d ---- */
T('d',340,228,{size:21,bold:true,color:'#1a1a1a'});
crossbar([378.7,243.3,552,356],{l:30,t:6,r:4,b:36},{xs:dX,per:2,pts:dPts,med:dMed,lo:dLo,hi:dHi,labels:insulinLabels,xmin:.435,xmax:10.63,boxW:13,medR:6.5,ptR:2.3,padding:21,
  y:yAxis(14,18,[14,15,16,17,18],v=>''+v)});
T('Vamp3 S48 P1',462.3,230,{a:'c'});T('Insulin',379.3,383,{a:'r'});T('#',498,250,{a:'c',size:8.5,color:'#444'});

/* ---- panel e ---- */
T('e',554,186,{size:21,bold:true,color:'#1a1a1a'});
bars([598.7,187,685,356.3],{l:50,t:4,r:4,b:50,title:'Phosphopeptides',tx:565},{xs:[1,2,3,4],labels:eLabels,xmin:.42,xmax:4.735,thick:16,rot:45,padding:3,ymax:120,yticks:[0,30,60,90,120],
  stacks:[{vals:eWeaker,color:WEAK},{vals:eStronger,color:BLACK}]});
T('Insulin response',668.3,188.7);T('vs C57Bl6J',668.3,202.7);BOX(669,214,679,224,BLACK);BOX(669,225.7,679,235.7,WEAK);T('Stronger',686,219);T('Weaker',686,230.7);
T('CHOW',727.3,351.7,{a:'c'});T('log2(insulin/',727.3,365.7,{a:'c'});T('unstimulated)',727.3,380,{a:'c'});
[['\u22123',701],['0',726.7],['3',751]].forEach(p=>T(p[0],p[1],391,{a:'c'}));
BOX(683.5,397.7,774,416.7,'linear-gradient(90deg,#1f6cae 0%,#3f8fc3 22%,#86bfdc 38%,#cfe6f0 44%,#ffffff 47%,#ffffff 51%,#fbcdb6 53%,#f19a7c 64%,#dd5f4c 80%,#b0182e 100%)');
BOX(700.7,397.7,701.7,400,'#fff');BOX(750.7,397.7,751.7,400,'#fff');

/* ---- panel f ---- */
T('f',317,404,{size:21,bold:true,color:'#1a1a1a'});
heat([362,419,774,514],{l:0,t:0,r:0,b:0},[fC57,fNOD,fBXH9,fCAST,fBXD],.92);
T('Strain-affected phosphopeptides',568,411,{a:'c'});
strains.forEach((s,i)=>T(s,357.5,[430.7,449.3,468.3,487.7,506.7][i],{a:'r'}));

/* ---- panel g ---- */
T('g',6,533,{size:21,bold:true,color:'#1a1a1a'});
bars([51,550,140,687.3],{l:80,t:4,r:4,b:90,title:'Phosphopeptides',tx:11.7},{xs:[1,3,4],labels:gLabels,xmin:.415,xmax:4.865,thick:16,rot:45,padding:6,ymax:500,yticks:[0,100,200,300,400,500],
  stacks:[{vals:gDown,color:BLUE},{vals:gUp,color:RED}],plugins:{funnel:{x1:1.4,y1:440,x2:2.5,y2:115,yb:-10,x3:4.7}}});
T('Insulin regulation',60,521);BOX(61,533.3,71,543.3,RED);BOX(61,545,71,555,BLUE);T('Upregulated',77.3,538);T('Downregulated',77.3,549.7);

/* ---- panel h ---- */
T('h',172,537,{size:21,bold:true,color:'#1a1a1a'});
crossbar([206,573.3,448,710],{l:50,t:4,r:4,b:30,title:'log2 Intensity',tx:168.3},{xs:hX,per:4,pts:hPts,med:hMed,lo:hLo,hi:hHi,labels:dietInsulinLabels,xmin:-.838,xmax:24.5,boxW:8.7,medR:4.5,ptR:2.2,padding:-2,lineHeight:1.2,
  plugins:{shade:{ranges:hShade,color:'#f0f1ef'},axisSpan:{from:14.5,to:17.5}},
  y:yAxis(14.165,17.774,[14.5,15,15.5,16,16.5,17,17.5],f1,{border:{display:false}})});
T('StrainxDiet effect',326.7,546.7,{a:'c'});T('Map2k4  S78  P1',326,565,{a:'c'});
T('HFD',207,714,{a:'r'});T('Insulin',207,728,{a:'r'});
T('*',242.7,580,{a:'c',size:10});T('*',385.7,606.5,{a:'c',size:10});

/* ---- panel i ---- */
T('i',455,537,{size:21,bold:true,color:'#1a1a1a'});
bars([490.3,565.3,582,726.3],{l:50,t:4,r:4,b:60,title:'Phosphopeptides',tx:456.7},{xs:[1,2,3,4,5],labels:iLabels,xmin:.4,xmax:5.69,thick:14,rot:45,padding:7,ymax:60,yticks:[0,20,40,60],
  stacks:[{vals:iWeaker,color:WEAK},{vals:iStronger,color:BLACK}]});
T('HFD insulin',566.7,552.7);T('response',566.7,566.7);T('vs CHOW',566.7,580.7);
BOX(567.7,591,577.7,601,BLACK);BOX(567.7,604.3,577.7,614.3,WEAK);T('Stronger',584,596.3);T('Weaker',584,609.7);

/* ---- panel j ---- */
T('j',640,536,{size:21,bold:true,color:'#1a1a1a'});
bars([681,535.3,740,726.7],{l:45,t:4,r:4,b:22,title:'Phosphopeptides',tx:648.3},{xs:[1,2,3],labels:jLabels,xmin:.365,xmax:3.77,thick:14,padding:5.7,ymax:80,yticks:[0,20,40,60,80],
  stacks:[{vals:jWeaker,color:WEAK},{vals:jMixed,color:MIXED},{vals:jStronger,color:BLACK}]});
T('# affected strains',708.7,755,{a:'c'});
T('HFD insulin',711.7,552.7);T('response',711.7,566.7);T('vs CHOW',711.7,580.7);
BOX(712.7,591,722.7,601,BLACK);BOX(712.7,604.3,722.7,614.3,WEAK);BOX(712.7,617.7,722.7,627.7,MIXED);
T('Stronger',729,596.3);T('Weaker',729,609.7);T('Mixed',729,622.3);

/* ---- panel k ---- */
T('k',10.7,784.5,{size:21,bold:true,color:'#1a1a1a'});
heat([49.3,790,490.7,885.5],{l:0,t:0,r:0,b:0},[kC57,kNOD,kBXH9,kCAST,kBXD],.65);
T('Uniform diet or StrainxDiet-affected phosphopeptides',270,778.3,{a:'c'});
strains.forEach((s,i)=>T(s,44.3,[802.3,821,840,859,879][i],{a:'r'}));
BOX(64.3,893.3,155,911.7,'linear-gradient(90deg,#1f6cae 0%,#3f8fc3 22%,#86bfdc 38%,#cfe6f0 46%,#ffffff 49%,#ffffff 52%,#fbcdb6 54%,#f19a7c 64%,#dd5f4c 80%,#b0182e 100%)');
BOX(84.5,909.5,85.5,911.7,'#fff');BOX(134.8,909.5,135.8,911.7,'#fff');
[['\u22124',85],['0',110.7],['4',135.3]].forEach(p=>T(p[0],p[1],920,{a:'c'}));
T('HFD log2(insulin/unstimulated) -',112.7,934,{a:'c'});T('CHOW log2(insulin/unstimulated)',112.7,948,{a:'c'});
heat([262.3,910,482.3,968],{l:70,t:0,r:4,b:56},[kC57,kNOD,kBXH9,kCAST,kBXD].map(r=>r.slice(57,74)),.65,insetLabels);
strains.forEach((s,i)=>T(s,260.3,[915.5,927,940,952,965][i],{a:'r',size:11.5}));

/* ---- panel l ---- */
T('l',513,793,{size:21,bold:true,color:'#1a1a1a'});
const xy=p=>({x:p[0],y:p[1]});
const path=(pts,c,t)=>({type:'line',data:pts.map(xy),borderColor:rgba(c,.7),borderWidth:1,pointRadius:0,tension:t||0,clip:false,order:5});
const head=(p,c,rot)=>({type:'scatter',data:[xy(p)],pointStyle:'triangle',pointRadius:2.6,rotation:rot,pointBackgroundColor:rgba(c,.9),pointBorderWidth:0,clip:false,order:4});
const lDs=[path(lPathC57,STRAIN[0],.35),path(lPathNOD,STRAIN[1]),path(lPathBXH9,STRAIN[2],.3),path(lPathCAST,STRAIN[3]),path(lPathBXD,STRAIN[4]),
  head(lPathC57[3],STRAIN[0],180),head(lPathNOD[1],STRAIN[1],180),head(lPathBXH9[3],STRAIN[2],0),head(lPathCAST[1],STRAIN[3],250),head(lPathBXD[1],STRAIN[4],180),
  {type:'scatter',data:lBxdRing.map(xy),pointRadius:3,pointBackgroundColor:'#fff',pointBorderColor:rgba(STRAIN[4],.45),pointBorderWidth:1,clip:false,order:3},
  {type:'scatter',data:lHfd.map(xy),pointRadius:3.6,pointBackgroundColor:STRAIN.map(c=>rgba(c,.95)),pointBorderWidth:0,clip:false,order:2},
  {type:'scatter',data:lChow.map(xy),pointRadius:4.2,pointBackgroundColor:STRAIN.map(c=>rgba(c,.22)),pointBorderColor:STRAIN,pointBorderWidth:1.4,clip:false,order:1}];
const lxTicks=[-2.5,0,2.5,5,7.5,10],lxText=['-2.5','0','2.5','5.0','7.5','10.0'];
mount([557.7,814,700.7,937.7],{l:50,t:6,r:12,b:24,title:'PC2 (17.983%)',tx:519.3},{type:'scatter',data:{datasets:lDs},options:{scales:{
  x:{type:'linear',min:-3.93,max:10,afterBuildTicks:s=>{s.ticks=lxTicks.map(value=>({value}))},
     ticks:{callback:(v,i)=>lxText[i],autoSkip:false,maxRotation:0,padding:1,color:INK},
     grid:{drawOnChartArea:false,tickLength:5,tickColor:AX,color:AX},border:{color:AX,width:1.2}},
  y:yAxis(-5.98,7.5,[-5,-2.5,0,2.5,5,7.5],v=>v.toFixed(1).replace('-','\u2212'))}}});
T('Insulin-regulated phosphopeptides',636,795,{a:'c'});
T('PC1 (19.789%)',636.7,966,{a:'c'});
T('Strain',711,812.3);
strains.forEach((s,i)=>{const y=[829.3,841,853,864.7,876.7][i];DOT(716.7,y,3.7,STRAIN[i]);T(s,728.7,y);});
T('Diet',711,897.7);DOT(716.7,915,3.7,'#9a9a9a','#222');T('CHOW',728.7,915);DOT(716.7,926.7,3.7,'#000');T('HFD',728.7,926.7);
</script></body></html>
